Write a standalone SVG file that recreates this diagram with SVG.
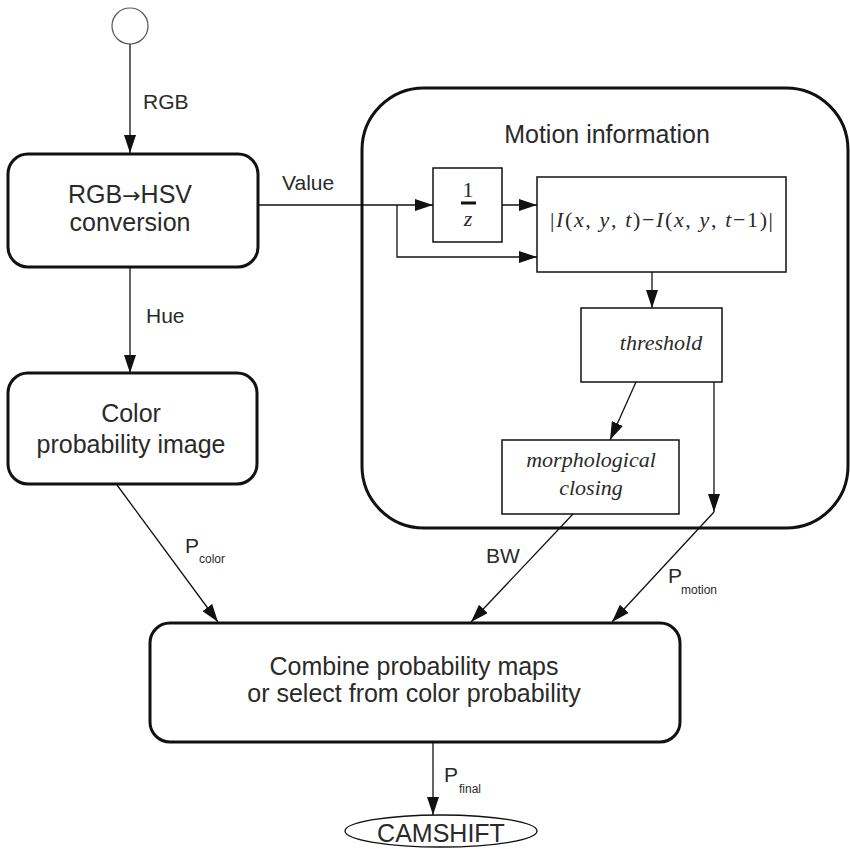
<svg xmlns="http://www.w3.org/2000/svg" width="850" height="849" viewBox="0 0 850 849">
<defs>
<marker id="ah" markerUnits="userSpaceOnUse" markerWidth="18" markerHeight="12" refX="18" refY="6" orient="auto" viewBox="0 0 18 12">
<path d="M0,0 L18,6 L0,12 z" fill="#111"/>
</marker>
<style>
.node{fill:#fff;stroke:#111;stroke-width:3}
.box{fill:#fff;stroke:#111;stroke-width:1.5}
.lbl{font-family:"Liberation Sans",Arial,sans-serif;font-size:25px;fill:#2a2a2a;text-anchor:middle}
.el{font-family:"Liberation Sans",Arial,sans-serif;font-size:21px;fill:#2a2a2a}
.sub{font-family:"Liberation Sans",Arial,sans-serif;font-size:12px;fill:#2a2a2a}
.math{font-family:"Liberation Serif","Times New Roman",serif;font-size:22px;fill:#2a2a2a}
.it{font-style:italic}
.ca{fill:none;stroke:#111;stroke-width:1.3;marker-end:url(#ah)}
</style>
</defs>
<rect width="850" height="849" fill="#fff"/>

<g id="start"><circle cx="130" cy="26" r="18" fill="#fff" stroke="#555" stroke-width="1.2"/></g>

<g id="rgb2hsv">
<rect class="node" x="8" y="154" width="250" height="113" rx="20"/>
<text class="lbl" x="130" y="203">RGB<tspan font-family="DejaVu Sans, sans-serif" font-size="22">→</tspan>HSV</text>
<text class="lbl" x="130" y="231">conversion</text>
</g>

<g id="colorprob">
<rect class="node" x="8" y="373" width="249" height="111" rx="20"/>
<text class="lbl" x="131" y="422">Color</text>
<text class="lbl" x="131" y="453">probability image</text>
</g>

<g id="motion">
<rect class="node" x="362" y="88" width="486" height="440" rx="62"/>
<text class="lbl" x="607" y="143">Motion information</text>
</g>

<g id="delay">
<rect class="box" x="433" y="168" width="69" height="74"/>
<text class="math" x="468" y="197" text-anchor="middle" font-size="20">1</text>
<line x1="461" y1="203" x2="476" y2="203" stroke="#111" stroke-width="3"/>
<text class="math it" x="468" y="226" text-anchor="middle" font-size="20">z</text>
</g>

<g id="diff">
<rect class="box" x="537" y="177" width="249" height="95"/>
<text class="math" x="550" y="227" textLength="223" lengthAdjust="spacing">|<tspan class="it">I</tspan>(<tspan class="it">x</tspan>, <tspan class="it">y</tspan>, <tspan class="it">t</tspan>)−<tspan class="it">I</tspan>(<tspan class="it">x</tspan>, <tspan class="it">y</tspan>, <tspan class="it">t</tspan>−1)|</text>
</g>

<g id="threshold">
<rect class="box" x="581" y="308" width="141" height="74"/>
<text class="math it" x="661" y="350" text-anchor="middle">threshold</text>
</g>

<g id="morph">
<rect class="box" x="502" y="440" width="177" height="74"/>
<text class="math it" x="591" y="467" text-anchor="middle">morphological</text>
<text class="math it" x="591" y="495" text-anchor="middle">closing</text>
</g>

<g id="combine">
<rect class="node" x="150" y="623" width="530" height="119" rx="20"/>
<text class="lbl" x="414" y="675">Combine probability maps</text>
<text class="lbl" x="414" y="702">or select from color probability</text>
</g>

<g id="camshift">
<ellipse cx="441" cy="831" rx="96" ry="16" fill="#fff" stroke="#111" stroke-width="1.3"/>
<text class="lbl" x="441" y="842">CAMSHIFT</text>
</g>

<g id="connectors">
<line class="ca" x1="130" y1="44" x2="130" y2="153"/>
<text class="el" x="143" y="109">RGB</text>
<line class="ca" x1="130" y1="267" x2="130" y2="373"/>
<text class="el" x="146" y="323">Hue</text>
<line class="ca" x1="258" y1="205" x2="433" y2="205"/>
<text class="el" x="282" y="190">Value</text>
<polyline class="ca" points="397,205 397,257 537,257"/>
<line class="ca" x1="502" y1="205" x2="537" y2="205"/>
<line class="ca" x1="652" y1="272" x2="652" y2="308"/>
<line class="ca" x1="636" y1="382" x2="610" y2="440"/>
<line class="ca" x1="714" y1="382" x2="714" y2="512"/>
<line class="ca" x1="714" y1="512" x2="612" y2="622"/>
<text class="el" x="668" y="583">P</text><text class="sub" x="681" y="594">motion</text>
<line class="ca" x1="573" y1="514" x2="471" y2="622"/>
<text class="el" x="486" y="563">BW</text>
<line class="ca" x1="117" y1="485" x2="218" y2="622"/>
<text class="el" x="185" y="553">P</text><text class="sub" x="199" y="563">color</text>
<line class="ca" x1="433" y1="742" x2="433" y2="815"/>
<text class="el" x="444" y="782">P</text><text class="sub" x="459" y="793">final</text>
</g>
</svg>
